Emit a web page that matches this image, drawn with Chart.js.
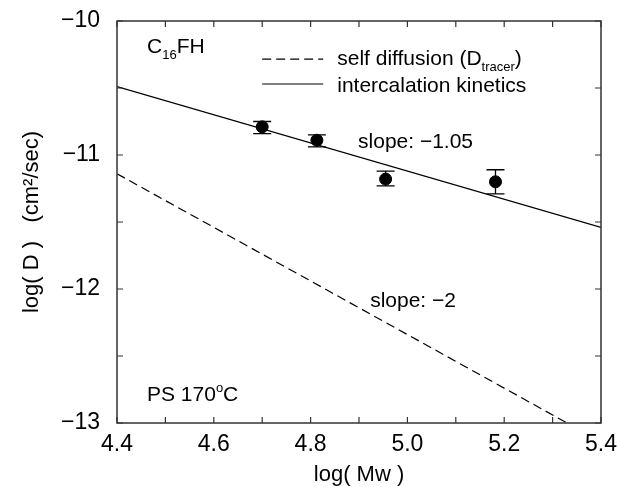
<!DOCTYPE html>
<html>
<head>
    <title>log(D) vs log(Mw)</title>
    <script src="https://cdn.jsdelivr.net/npm/chart.js"></script>
    <style>
        body { margin: 0; background: #fff; }
    </style>
</head>
<body>
    <div style="width: 618px; height: 487px;">
        <canvas id="diffChart" width="618" height="487"></canvas>
    </div>

    <script>
        // data
        var logMw = [4.70, 4.813, 4.955, 5.182];
        var logD = [-10.79, -10.89, -11.18, -11.20];
        var errLow = [-10.84, -10.94, -11.23, -11.29];
        var errHigh = [-10.75, -10.85, -11.12, -11.11];

        // intercalation kinetics fit (slope -1.05)
        var fitX = [4.4, 5.4];
        var fitY = [-10.49, -11.54];

        // self diffusion (slope -2)
        var selfX = [4.4, 5.33];
        var selfY = [-11.14, -13.0];

        var xTicks = [4.4, 4.6, 4.8, 5.0, 5.2, 5.4];
        var yTicks = [-13, -12, -11, -10];

        var FONT = '"Liberation Sans", Arial, sans-serif';

        function toPts(xs, ys) {
            return xs.map(function (x, i) { return { x: x, y: ys[i] }; });
        }

        // draws text made of normal / sub / sup pieces, left aligned at baseline
        function richText(ctx, x, y, parts, size) {
            var cx = x;
            parts.forEach(function (p) {
                var s = size, dy = 0;
                if (p.sub) { s = Math.round(size * 0.62); dy = 6; }
                if (p.sup) { s = Math.round(size * 0.62); dy = -9; }
                ctx.font = s + 'px ' + FONT;
                ctx.fillText(p.t, cx, y + dy);
                cx += ctx.measureText(p.t).width;
            });
        }

        // let the layout padding alone decide the plot box
        function noPad(s) {
            s.paddingTop = 0; s.paddingBottom = 0;
            s.paddingLeft = 0; s.paddingRight = 0;
        }

        var framePlugin = {
            id: 'frame',
            afterDatasetsDraw: function (chart) {
                var ctx = chart.ctx;
                var xs = chart.scales.x, ys = chart.scales.y;
                var a = chart.chartArea;
                ctx.save();

                // error bars
                ctx.strokeStyle = '#000';
                ctx.lineWidth = 1.3;
                for (var i = 0; i < logMw.length; i++) {
                    var px = xs.getPixelForValue(logMw[i]);
                    var lo = ys.getPixelForValue(errLow[i]);
                    var hi = ys.getPixelForValue(errHigh[i]);
                    ctx.beginPath();
                    ctx.moveTo(px, lo); ctx.lineTo(px, hi);
                    ctx.moveTo(px - 9, lo); ctx.lineTo(px + 9, lo);
                    ctx.moveTo(px - 9, hi); ctx.lineTo(px + 9, hi);
                    ctx.stroke();
                }

                // box
                ctx.strokeStyle = '#333';
                ctx.lineWidth = 1.5;
                ctx.strokeRect(a.left, a.top, a.right - a.left, a.bottom - a.top);

                // inward ticks (major + minor)
                ctx.lineWidth = 1.2;
                ctx.beginPath();
                for (var v = 4.4; v <= 5.4001; v += 0.1) {
                    var p = xs.getPixelForValue(v);
                    ctx.moveTo(p, a.bottom); ctx.lineTo(p, a.bottom - 6);
                    ctx.moveTo(p, a.top); ctx.lineTo(p, a.top + 6);
                }
                for (var w = -13; w <= -9.999; w += 0.5) {
                    var q = ys.getPixelForValue(w);
                    ctx.moveTo(a.left, q); ctx.lineTo(a.left + 6, q);
                    ctx.moveTo(a.right, q); ctx.lineTo(a.right - 6, q);
                }
                ctx.stroke();

                // legend samples
                ctx.strokeStyle = '#000';
                ctx.lineWidth = 1.2;
                ctx.setLineDash([9, 5]);
                ctx.beginPath();
                ctx.moveTo(xs.getPixelForValue(4.70), ys.getPixelForValue(-10.284));
                ctx.lineTo(xs.getPixelForValue(4.826), ys.getPixelForValue(-10.284));
                ctx.stroke();
                ctx.setLineDash([]);
                ctx.beginPath();
                ctx.moveTo(xs.getPixelForValue(4.70), ys.getPixelForValue(-10.47));
                ctx.lineTo(xs.getPixelForValue(4.826), ys.getPixelForValue(-10.47));
                ctx.stroke();

                // labels
                ctx.fillStyle = '#000';
                ctx.textBaseline = 'alphabetic';
                ctx.textAlign = 'left';
                var X = function (v) { return xs.getPixelForValue(v); };
                var Y = function (v) { return ys.getPixelForValue(v); };
                richText(ctx, X(4.462), Y(-10.241), [{ t: 'C' }, { t: '16', sub: true }, { t: 'FH' }], 21);
                richText(ctx, X(4.462), Y(-12.836), [{ t: 'PS 170' }, { t: 'o', sup: true }, { t: 'C' }], 21);
                richText(ctx, X(4.855), Y(-10.328), [{ t: 'self diffusion (D' }, { t: 'tracer', sub: true }, { t: ')' }], 21);
                richText(ctx, X(4.855), Y(-10.527), [{ t: 'intercalation kinetics' }], 21);
                richText(ctx, X(4.898), Y(-10.948), [{ t: 'slope: \u22121.05' }], 21);
                richText(ctx, X(4.923), Y(-12.132), [{ t: 'slope: \u22122' }], 21);

                ctx.restore();
            }
        };

        var ctx = document.getElementById('diffChart').getContext('2d');
        var diffChart = new Chart(ctx, {
            type: 'scatter',
            data: {
                datasets: [
                    {
                        label: 'data',
                        data: toPts(logMw, logD),
                        backgroundColor: '#000',
                        borderColor: '#000',
                        pointRadius: 6,
                        pointHoverRadius: 6
                    },
                    {
                        label: 'intercalation kinetics',
                        data: toPts(fitX, fitY),
                        showLine: true,
                        borderColor: '#000',
                        borderWidth: 1.2,
                        pointRadius: 0
                    },
                    {
                        label: 'self diffusion',
                        data: toPts(selfX, selfY),
                        showLine: true,
                        borderColor: '#000',
                        borderWidth: 1.2,
                        borderDash: [9, 5],
                        pointRadius: 0
                    }
                ]
            },
            options: {
                responsive: false,
                animation: false,
                layout: { padding: { top: 21, right: 17, left: 0, bottom: 0 } },
                plugins: { legend: { display: false }, tooltip: { enabled: false } },
                scales: {
                    x: {
                        type: 'linear',
                        min: 4.4,
                        max: 5.4,
                        afterBuildTicks: function (s) { s.ticks = xTicks.map(function (v) { return { value: v }; }); },
                        afterFit: function (s) { s.height = 64; noPad(s); },
                        grid: { display: false, drawTicks: false },
                        border: { display: false },
                        ticks: {
                            padding: 8,
                            color: '#000',
                            font: { family: FONT, size: 23 },
                            maxRotation: 0,
                            callback: function (v) { return Number(v).toFixed(1); }
                        },
                        title: {
                            display: true,
                            text: 'log( Mw )',
                            color: '#000',
                            font: { family: FONT, size: 22 },
                            padding: { top: 0, bottom: -1 }
                        }
                    },
                    y: {
                        type: 'linear',
                        min: -13,
                        max: -10,
                        afterBuildTicks: function (s) { s.ticks = yTicks.map(function (v) { return { value: v }; }); },
                        afterFit: function (s) { s.width = 117; noPad(s); },
                        grid: { display: false, drawTicks: false },
                        border: { display: false },
                        ticks: {
                            padding: 17,
                            color: '#000',
                            font: { family: FONT, size: 23 },
                            callback: function (v) { return String(v).replace('-', '\u2212'); }
                        },
                        title: {
                            display: true,
                            text: 'log( D )   (cm\u00b2/sec)',
                            color: '#000',
                            font: { family: FONT, size: 22 },
                            padding: { top: 19, bottom: 0 }
                        }
                    }
                }
            },
            plugins: [framePlugin]
        });
    </script>
</body>
</html>
